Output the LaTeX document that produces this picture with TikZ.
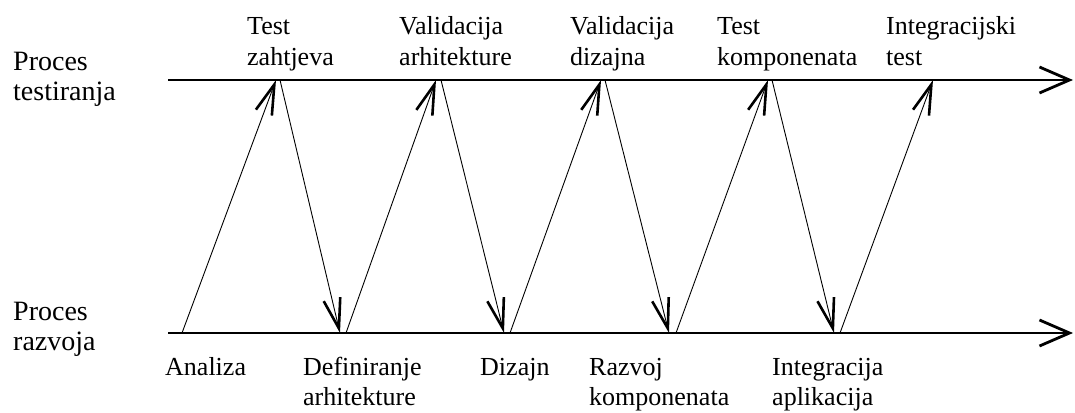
\documentclass[tikz,border=0pt]{standalone}
\usepackage{fontspec}
\setmainfont{Liberation Serif}
\usetikzlibrary{arrows.meta}
\begin{document}
\begin{tikzpicture}[x=1pt,y=-1pt,
    os/.style={line width=2.8pt,-{Straight Barb[length=30pt,width=26pt,line width=2.8pt]}},
    veza/.style={line width=0.9pt,-{Straight Barb[length=30pt,width=17pt,line width=2.6pt]}},
    oznaka/.style={anchor=base west,inner sep=0pt,align=left,font=\fontsize{26}{30}\selectfont},
    proces/.style={oznaka,font=\fontsize{28}{30}\selectfont}]
    \useasboundingbox (0,0) rectangle (1075,412);
    % Osi
    \coordinate (tp) at (168,80);
    \coordinate (tk) at (1073,80);
    \coordinate (rp) at (168,333);
    \coordinate (rk) at (1073,333);
    \draw [os] (tp) -- (tk);
    \draw [os] (rp) -- (rk);
    % Strelice
    \foreach \i/\a/\b in {1/182/276, 2/346/436, 3/510/601, 4/676/768, 5/840/933} {
        \coordinate (r\i) at (\a,333);
        \coordinate (t\i) at (\b,80);
        \draw [veza] (r\i) -- (t\i);
    }
    \foreach \i/\a/\b in {1/280/340, 2/441/504, 3/605/669, 4/772/834} {
        \coordinate (s\i) at (\a,80);
        \coordinate (d\i) at (\b,333);
        \draw [veza] (s\i) -- (d\i);
    }
    % Tekst (base = zadnji redak)
    \node [proces] (testiranje) at (13,100) {Proces\\testiranja};
    \node [proces] (razvoj) at (13,350) {Proces\\razvoja};
    \node [oznaka] (zahtjevi) at (247,65) {Test\\zahtjeva};
    \node [oznaka] (valarh) at (399,65) {Validacija\\arhitekture};
    \node [oznaka] (valdiz) at (570,65) {Validacija\\dizajna};
    \node [oznaka] (testkomp) at (717,65) {Test\\komponenata};
    \node [oznaka] (integtest) at (886,65) {Integracijski\\test};
    \node [oznaka] (analiza) at (165,375) {Analiza};
    \node [oznaka] (defarh) at (303,405) {Definiranje\\arhitekture};
    \node [oznaka] (dizajn) at (480,375) {Dizajn};
    \node [oznaka] (razkomp) at (589,405) {Razvoj\\komponenata};
    \node [oznaka] (integapl) at (772,405) {Integracija\\aplikacija};
\end{tikzpicture}
\end{document}
